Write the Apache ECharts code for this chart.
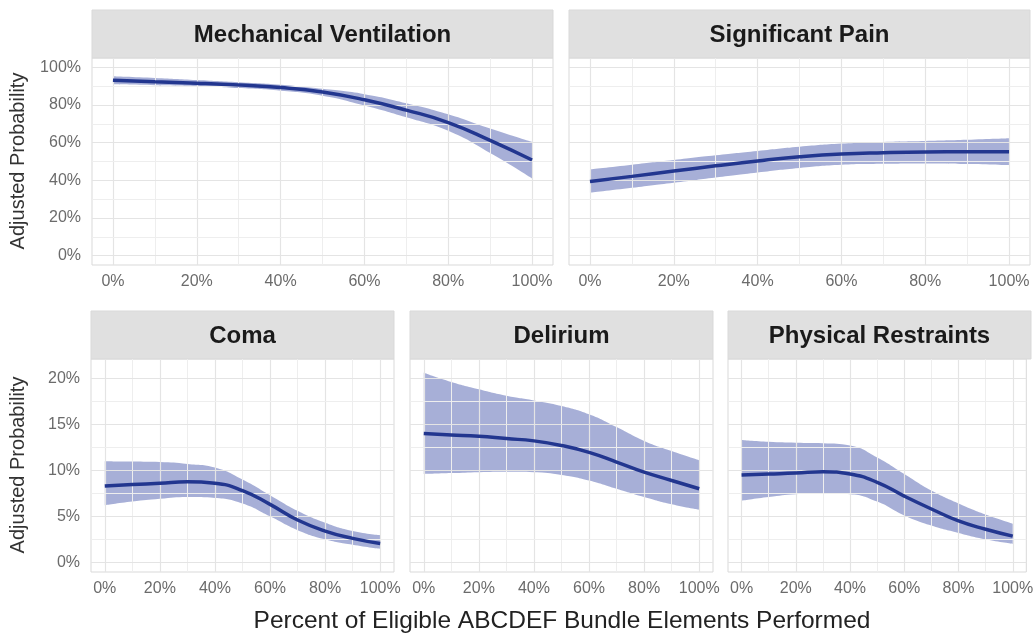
<!DOCTYPE html>
<html>
<head>
<meta charset="utf-8">
<script src="https://cdn.jsdelivr.net/npm/echarts@6/dist/echarts.min.js"></script>
<style>
  html, body { margin: 0; padding: 0; background: #fff; }
  #chart { width: 1036px; height: 633px; }
</style>
</head>
<body>
<div id="chart"></div>
<script>
// x categories (percent of bundle elements performed)
var pct = ['0%', '10%', '20%', '30%', '40%', '50%', '60%', '70%', '80%', '90%', '100%'];

var panelNames = ['Mechanical Ventilation', 'Significant Pain', 'Coma', 'Delirium', 'Physical Restraints'];

// fitted probability and CI bounds, in %
var mvFit = [93.2, 92.4, 91.6, 90.6, 89.3, 86.9, 82.8, 77.3, 70.7, 61.2, 50.8];
var mvLo  = [91.0, 90.5, 90.0, 89.0, 87.6, 85.0, 79.8, 73.5, 66.3, 54.5, 41.0];
var mvHi  = [95.3, 94.4, 93.3, 92.1, 90.8, 88.6, 85.8, 81.0, 75.1, 67.5, 60.4];

var spFit = [39.4, 42.1, 44.9, 47.7, 50.3, 52.5, 54.0, 54.7, 55.1, 55.2, 55.2];
var spLo  = [33.4, 36.0, 38.7, 41.5, 44.2, 46.6, 48.3, 48.8, 49.0, 48.7, 48.1];
var spHi  = [45.8, 48.3, 50.8, 53.3, 55.6, 57.8, 59.5, 60.4, 60.9, 61.5, 62.3];

var comaFit = [8.3, 8.45, 8.6, 8.75, 8.6, 7.8, 6.3, 4.6, 3.4, 2.6, 2.05];
var comaLo  = [6.2, 6.6, 6.9, 7.1, 7.0, 6.4, 5.0, 3.5, 2.5, 1.9, 1.45];
var comaHi  = [11.0, 10.95, 10.9, 10.7, 10.3, 9.0, 7.3, 5.6, 4.3, 3.4, 2.95];

var delFit = [14.0, 13.85, 13.7, 13.45, 13.2, 12.7, 11.95, 10.9, 9.8, 8.9, 8.0];
var delLo  = [9.6, 9.7, 9.8, 9.85, 9.8, 9.5, 8.9, 8.0, 7.1, 6.3, 5.7];
var delHi  = [20.6, 19.6, 18.8, 18.1, 17.6, 17.0, 16.1, 14.7, 13.2, 12.1, 11.1];

var prFit = [9.5, 9.6, 9.7, 9.85, 9.6, 8.7, 7.2, 5.8, 4.5, 3.6, 2.85];
var prLo  = [6.7, 7.1, 7.4, 7.5, 7.4, 6.6, 5.1, 4.0, 3.2, 2.5, 2.0];
var prHi  = [13.3, 13.1, 13.0, 12.95, 12.7, 11.4, 9.6, 7.8, 6.4, 5.2, 4.2];

// y tick values
var yTicksTop = [0, 20, 40, 60, 80, 100];
var yMinorTop = [10, 30, 50, 70, 90];
var yTicksBot = [0, 5, 10, 15, 20];
var yMinorBot = [2.5, 7.5, 12.5, 17.5];

var fits = [mvFit, spFit, comaFit, delFit, prFit];
var los = [mvLo, spLo, comaLo, delLo, prLo];
var his = [mvHi, spHi, comaHi, delHi, prHi];

var grids = [
  { left: 92, top: 58, width: 461, height: 207 },
  { left: 569, top: 58, width: 461, height: 207 },
  { left: 91, top: 359, width: 303, height: 213 },
  { left: 410, top: 359, width: 303, height: 213 },
  { left: 728, top: 359, width: 303, height: 213 }
];

var FONT = '"Liberation Sans", Arial, sans-serif';
var lineColor = '#22368f';
var bandColor = 'rgba(36,56,154,0.4)';
var gridMajor = '#e4e4e4';
var gridMinor = '#eeeeee';

var xAxes = [], yAxes = [], series = [], graphics = [];

grids.forEach(function (g, i) {
  g.show = true;
  g.borderColor = '#d9d9d9';
  g.borderWidth = 1;
  g.backgroundColor = '#fff';
  var top = i < 2;
  var yT = top ? yTicksTop : yTicksBot;
  var yM = top ? yMinorTop : yMinorBot;

  // boundaryGap gives the 5% padding on each side
  xAxes.push({
    type: 'category', gridIndex: i, data: pct, boundaryGap: true,
    axisLine: { show: false }, axisTick: { show: false }, splitLine: { show: false },
    axisLabel: { interval: 1, color: '#6b6b6b', fontSize: 16, fontFamily: FONT, margin: 9 }
  });
  yAxes.push({
    type: 'value', gridIndex: i,
    min: top ? -5 : -1.05, max: top ? 105 : 22.1,
    axisLine: { show: false }, axisTick: { show: false }, splitLine: { show: false },
    axisLabel: { show: i === 0 || i === 2, customValues: yT, formatter: '{value}%', color: '#6b6b6b', fontSize: 16, fontFamily: FONT, margin: 11 }
  });

  var gl = [];
  pct.forEach(function (v, k) {
    gl.push({ xAxis: k, lineStyle: { color: k % 2 ? gridMinor : gridMajor, width: k % 2 ? 1 : 1.2, type: 'solid' } });
  });
  yT.forEach(function (v) { gl.push({ yAxis: v, lineStyle: { color: gridMajor, width: 1.2, type: 'solid' } }); });
  yM.forEach(function (v) { gl.push({ yAxis: v, lineStyle: { color: gridMinor, width: 1, type: 'solid' } }); });

  var lo = los[i], hi = his[i], fit = fits[i];
  series.push({
    type: 'line', xAxisIndex: i, yAxisIndex: i, stack: 'band' + i, z: 1,
    data: lo,
    smooth: true, symbol: 'none', lineStyle: { opacity: 0 }, silent: true,
    markLine: { silent: true, symbol: 'none', label: { show: false }, animation: false, data: gl }
  });
  series.push({
    type: 'line', xAxisIndex: i, yAxisIndex: i, stack: 'band' + i, z: 2,
    data: hi.map(function (v, k) { return v - lo[k]; }),
    smooth: true, symbol: 'none', lineStyle: { opacity: 0 }, silent: true,
    areaStyle: { color: bandColor, opacity: 1 }
  });
  series.push({
    type: 'line', xAxisIndex: i, yAxisIndex: i, z: 5,
    data: fit,
    smooth: true, symbol: 'none', lineStyle: { color: lineColor, width: 3.5 }
  });

  // strip header
  var sTop = top ? 10 : 311;
  graphics.push({
    type: 'rect', shape: { x: g.left, y: sTop, width: g.width, height: g.top - sTop },
    style: { fill: '#e0e0e0', stroke: '#d9d9d9', lineWidth: 1 }, silent: true
  });
  graphics.push({
    type: 'text', x: g.left + g.width / 2, y: (sTop + g.top) / 2 + 1,
    style: { text: panelNames[i], font: 'bold 24px ' + FONT, fill: '#1a1a1a', textAlign: 'center', textVerticalAlign: 'middle' },
    silent: true
  });
});

// axis titles
graphics.push({
  type: 'text', x: 18, y: 161, rotation: Math.PI / 2,
  style: { text: 'Adjusted Probability', font: '20px ' + FONT, fill: '#333', textAlign: 'center', textVerticalAlign: 'middle' }
});
graphics.push({
  type: 'text', x: 18, y: 465, rotation: Math.PI / 2,
  style: { text: 'Adjusted Probability', font: '20px ' + FONT, fill: '#333', textAlign: 'center', textVerticalAlign: 'middle' }
});
graphics.push({
  type: 'text', x: 562, y: 621,
  style: { text: 'Percent of Eligible ABCDEF Bundle Elements Performed', font: '24.5px ' + FONT, fill: '#222', textAlign: 'center', textVerticalAlign: 'middle' }
});

var chart = echarts.init(document.getElementById('chart'));
chart.setOption({
  backgroundColor: '#fff',
  animation: false,
  grid: grids,
  xAxis: xAxes,
  yAxis: yAxes,
  series: series,
  graphic: graphics
});
</script>
</body>
</html>
